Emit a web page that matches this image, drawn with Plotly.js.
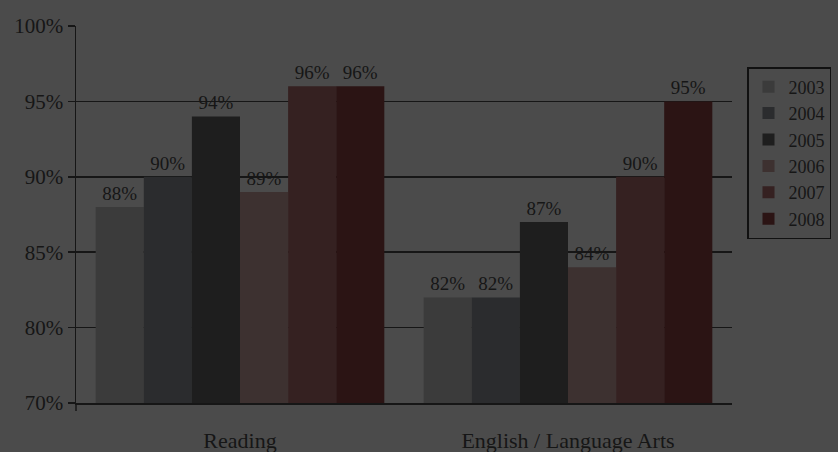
<!DOCTYPE html>
<html>
<head>
<meta charset="utf-8">
<script src="https://cdn.plot.ly/plotly-3.0.1.min.js"></script>
<style>
  html, body { margin: 0; padding: 0; background: #4b4b4b; }
  #chart { width: 838px; height: 452px; }
</style>
</head>
<body>
<div id="chart"></div>
<script>
// Subjects on the category axis
const subjects = ['Reading', 'English / Language Arts'];

// One series per school year
const years = ['2003', '2004', '2005', '2006', '2007', '2008'];

// Percent proficient, per year: [Reading, English / Language Arts]
const pct2003 = [88, 82];
const pct2004 = [90, 82];
const pct2005 = [94, 87];
const pct2006 = [89, 84];
const pct2007 = [96, 90];
const pct2008 = [96, 95];

// Value axis ticks and their labels
const yTickVals = [75, 80, 85, 90, 95, 100];
const yTickText = ['70%', '80%', '85%', '90%', '95%', '100%'];

const seriesValues = [pct2003, pct2004, pct2005, pct2006, pct2007, pct2008];
const barColors = ['#3b3b3b', '#2b2c2e', '#1e1e1e', '#3d3130', '#352121', '#2b1414'];

const ink = '#161616';
const serif = 'Liberation Serif, Times New Roman, serif';

const traces = years.map((yr, i) => ({
  type: 'bar',
  name: yr,
  x: subjects,
  y: seriesValues[i],
  marker: { color: barColors[i], line: { width: 0 } },
  text: seriesValues[i].map(v => v + '%'),
  textposition: 'outside',
  textfont: { family: serif, size: 19, color: ink },
  cliponaxis: false,
  hoverinfo: 'skip'
}));

const layout = {
  width: 838,
  height: 452,
  paper_bgcolor: '#4b4b4b',
  plot_bgcolor: '#4b4b4b',
  margin: { l: 76, r: 106, t: 26, b: 49 },
  barmode: 'group',
  bargap: 0.12,
  bargroupgap: 0,
  font: { family: serif, color: ink },
  showlegend: true,
  legend: {
    xref: 'container', yref: 'container',
    x: 747 / 838, y: 1 - 67 / 452,
    xanchor: 'left', yanchor: 'top',
    bgcolor: 'rgba(0,0,0,0)',
    bordercolor: '#111111',
    borderwidth: 1.5,
    font: { family: serif, size: 18, color: ink },
    traceorder: 'normal'
  },
  xaxis: {
    type: 'category',
    showgrid: false,
    showline: true,
    linecolor: ink,
    linewidth: 1.5,
    ticks: '',
    ticklabelstandoff: 17,
    tickfont: { family: serif, size: 22, color: ink },
    fixedrange: true
  },
  yaxis: {
    range: [75, 100],
    tickmode: 'array',
    tickvals: yTickVals,
    ticktext: yTickText,
    showgrid: true,
    gridcolor: ink,
    gridwidth: 1.5,
    zeroline: false,
    showline: true,
    linecolor: ink,
    linewidth: 1.5,
    ticks: 'outside',
    ticklen: 7,
    tickwidth: 1.5,
    tickcolor: ink,
    ticklabelstandoff: 0,
    tickfont: { family: serif, size: 21, color: ink },
    fixedrange: true
  },
  shapes: [{
    // short stub of the value axis below the baseline
    type: 'line',
    xref: 'paper', x0: 0, x1: 0,
    yref: 'paper', ysizemode: 'pixel', yanchor: 0, y0: 0, y1: -8,
    line: { color: ink, width: 1.5 }
  }]
};

Plotly.newPlot('chart', traces, layout, { displayModeBar: false, staticPlot: true });
</script>
</body>
</html>
